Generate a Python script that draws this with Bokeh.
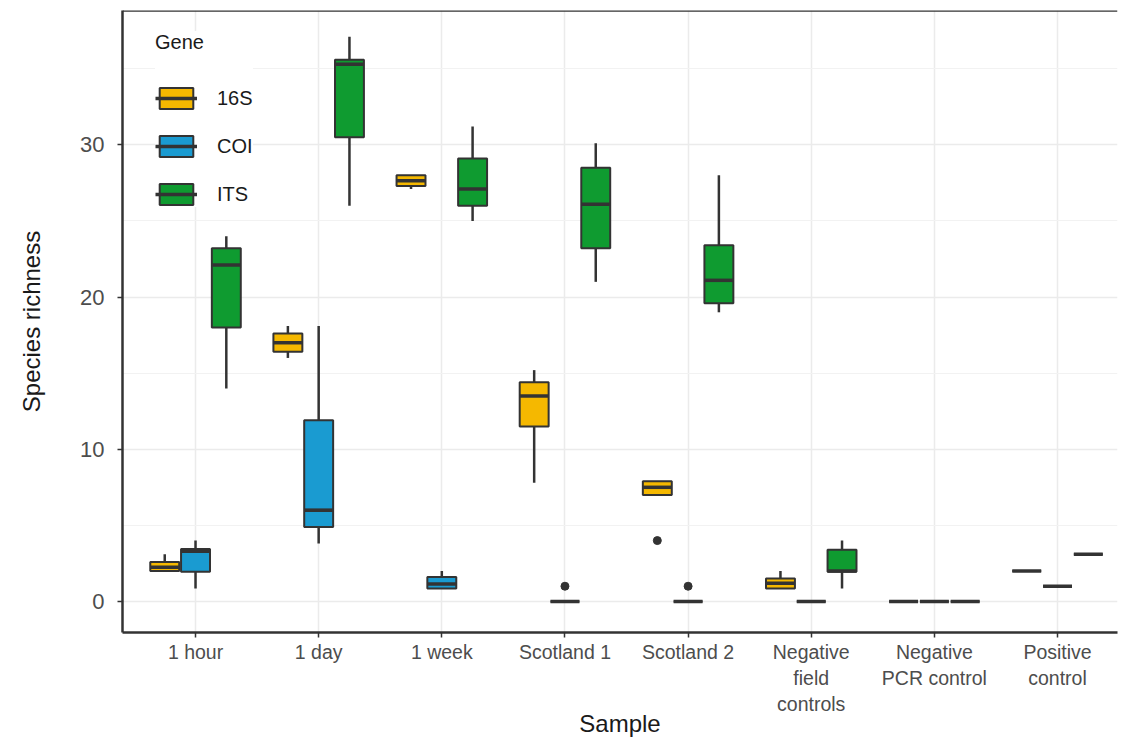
from bokeh.plotting import figure
from bokeh.models import ColumnDataSource, FixedTicker, Span, Legend, LegendItem
from bokeh.embed import file_html
from bokeh.resources import INLINE

# ---------------- data ----------------
samples = ["1 hour", "1 day", "1 week", "Scotland 1", "Scotland 2",
           "Negative\nfield\ncontrols", "Negative\nPCR control", "Positive\ncontrol"]
genes = ["16S", "COI", "ITS"]
gene_colors = ["#F5B800", "#1A9BD1", "#0F9B30"]

# five-number summaries per sample (lower whisker, Q1, median, Q3, upper whisker)
lower_16S = [2, 16, 27.1, 7.8, 7, 1, 0, 2]
q1_16S = [2, 16.4, 27.3, 11.5, 7, 0.85, 0, 2]
med_16S = [2.25, 17, 27.65, 13.5, 7.5, 1.2, 0, 2]
q3_16S = [2.6, 17.6, 28, 14.4, 7.9, 1.5, 0, 2]
upper_16S = [3.1, 18.1, 28, 15.2, 7.9, 2, 0, 2]

lower_COI = [0.85, 3.8, 0.85, 0, 0, 0, 0, 1]
q1_COI = [1.95, 4.9, 0.85, 0, 0, 0, 0, 1]
med_COI = [3.3, 6, 1.15, 0, 0, 0, 0, 1]
q3_COI = [3.45, 11.9, 1.6, 0, 0, 0, 0, 1]
upper_COI = [4, 18.1, 2, 0, 0, 0, 0, 1]

lower_ITS = [14, 26, 25, 21, 19, 0.85, 0, 3.1]
q1_ITS = [18, 30.5, 26, 23.2, 19.6, 1.95, 0, 3.1]
med_ITS = [22.1, 35.3, 27.1, 26.1, 21.1, 2, 0, 3.1]
q3_ITS = [23.2, 35.6, 29.1, 28.5, 23.4, 3.4, 0, 3.1]
upper_ITS = [24, 37.1, 31.2, 30.1, 28, 4, 0, 3.1]

# outliers: (0-based sample index, value)
out_16S_sample = [4]
out_16S_value = [4]
out_COI_sample = [3, 4]
out_COI_value = [1, 1]
out_ITS_sample = []
out_ITS_value = []

y_ticks = [0, 10, 20, 30]
y_minor = [5, 15, 25, 35]

summaries = {
    "16S": (lower_16S, q1_16S, med_16S, q3_16S, upper_16S, out_16S_sample, out_16S_value),
    "COI": (lower_COI, q1_COI, med_COI, q3_COI, upper_COI, out_COI_sample, out_COI_value),
    "ITS": (lower_ITS, q1_ITS, med_ITS, q3_ITS, upper_ITS, out_ITS_sample, out_ITS_value),
}

# ---------------- figure ----------------
p = figure(frame_width=995, frame_height=622,
           x_range=(0.407, 8.487), y_range=(-2.04, 38.83),
           output_backend="svg", toolbar_location=None,
           min_border_left=122, min_border_top=10, min_border_right=10,
           min_border_bottom=60)
p.outline_line_color = None
p.background_fill_color = "white"
p.border_fill_color = "white"

dodge = [-0.25, 0.0, 0.25]
box_w = 0.235
dark = "#333333"

legend_items = []
for gi, g in enumerate(genes):
    lo, q1, md, q3, up, os_, ov = summaries[g]
    xs = [i + 1 + dodge[gi] for i in range(len(samples))]
    src = ColumnDataSource(dict(x=xs, lo=lo, q1=q1, md=md, q3=q3, up=up,
                                x0=[x - box_w / 2 for x in xs],
                                x1=[x + box_w / 2 for x in xs]))
    p.segment(x0="x", y0="q3", x1="x", y1="up", source=src, line_color=dark, line_width=2.5)
    p.segment(x0="x", y0="lo", x1="x", y1="q1", source=src, line_color=dark, line_width=2.5)
    box = p.vbar(x="x", width=box_w, bottom="q1", top="q3", source=src,
                 fill_color=gene_colors[gi], line_color=dark, line_width=2)
    med = p.segment(x0="x0", y0="md", x1="x1", y1="md", source=src,
                    line_color=dark, line_width=3.5)
    if os_:
        osrc = ColumnDataSource(dict(x=[s + 1 + dodge[gi] for s in os_], y=ov))
        p.scatter(x="x", y="y", source=osrc, size=8, marker="circle",
                  fill_color=dark, line_color=dark)
    legend_items.append(LegendItem(label=g, renderers=[box, med]))

# top border
p.add_layout(Span(location=38.83, dimension="width", line_color=dark, line_width=2.5))

# grids
p.xgrid.ticker = FixedTicker(ticks=list(range(1, len(samples) + 1)))
p.ygrid.ticker = FixedTicker(ticks=y_ticks, minor_ticks=y_minor)
p.xgrid.grid_line_color = "#EBEBEB"
p.xgrid.grid_line_width = 1.5
p.ygrid.grid_line_color = "#EBEBEB"
p.ygrid.grid_line_width = 1.5
p.ygrid.minor_grid_line_color = "#F2F2F2"
p.ygrid.minor_grid_line_width = 1

# axes
p.xaxis.ticker = FixedTicker(ticks=list(range(1, len(samples) + 1)))
p.xaxis.major_label_overrides = {i + 1: s for i, s in enumerate(samples)}
p.yaxis.ticker = FixedTicker(ticks=y_ticks)
for ax in (p.xaxis, p.yaxis):
    ax.axis_line_color = dark
    ax.axis_line_width = 2.5
    ax.major_tick_line_color = dark
    ax.major_tick_line_width = 1.5
    ax.major_tick_out = 5
    ax.major_tick_in = 0
    ax.minor_tick_line_color = None
    ax.major_label_text_color = "#4D4D4D"
    ax.major_label_text_font = "Liberation Sans"
    ax.axis_label_text_font = "Liberation Sans"
    ax.axis_label_text_font_style = "normal"
    ax.axis_label_text_color = "#1A1A1A"
    ax.axis_label_text_font_size = "24px"

p.xaxis.major_label_text_font_size = "19.5px"
p.xaxis.major_label_standoff = 3
p.xaxis.axis_label = "Sample"
p.xaxis.axis_label_standoff = -8
p.yaxis.major_label_text_font_size = "22px"
p.yaxis.major_label_standoff = 13
p.yaxis.axis_label = "Species richness"
p.yaxis.axis_label_standoff = 32

legend = Legend(items=legend_items, location=(33, 425), title="Gene",
                title_text_font="Liberation Sans", title_text_font_size="20px",
                title_text_font_style="normal", title_text_color="#1A1A1A",
                title_standoff=31,
                label_text_font="Liberation Sans", label_text_font_size="20px",
                label_text_color="#1A1A1A",
                glyph_width=42, glyph_height=26, spacing=22, label_standoff=20,
                padding=6, margin=0, border_line_color=None,
                background_fill_color="white", background_fill_alpha=1.0)
p.add_layout(legend)

open("out.html", "w").write(file_html(p, INLINE))
